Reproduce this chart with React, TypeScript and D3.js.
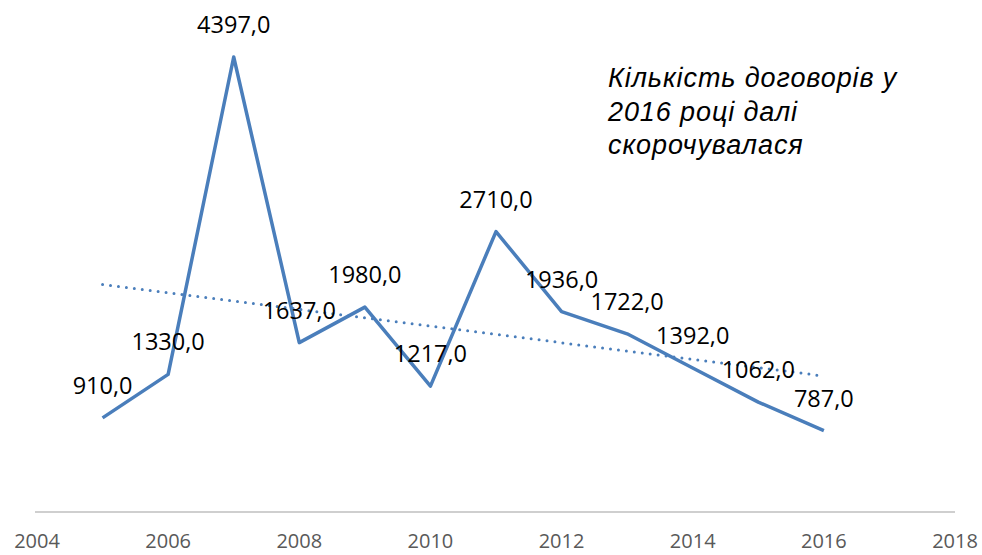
import React from "react";
import * as d3 from "d3";

const years = [2005, 2006, 2007, 2008, 2009, 2010, 2011, 2012, 2013, 2014, 2015, 2016];
const values = [910, 1330, 4397, 1637, 1980, 1217, 2710, 1936, 1722, 1392, 1062, 787];
const xTicks = [2004, 2006, 2008, 2010, 2012, 2014, 2016, 2018];
const noteLines = ["Кількість договорів у", "2016 році далі", "скорочувалася"];

export default function App() {
  const W = 982, H = 555;
  const x = d3.scaleLinear().domain([2004, 2018]).range([37, 955]);
  const y = d3.scaleLinear().domain([0, 4397]).range([512, 57]);

  const n = years.length;
  const mx = d3.mean(years)!;
  const my = d3.mean(values)!;
  let sxy = 0, sxx = 0;
  years.forEach((yr, i) => { sxy += (yr - mx) * (values[i] - my); sxx += (yr - mx) ** 2; });
  const slope = sxy / sxx;
  const trend = (yr: number) => my + slope * (yr - mx);

  const line = d3.line<number>().x((_, i) => x(years[i])).y(v => y(v));
  const fmt = (v: number) => v.toFixed(1).replace(".", ",");

  return (
    <svg width={W} height={H} style={{ position: "absolute", left: 0, top: 0, background: "#fff" }}>
      <line x1={35} x2={955} y1={y(0)} y2={y(0)} stroke="#bfbfbf" strokeWidth={1.5} />
      {xTicks.map(t => (
        <text key={t} x={x(t)} y={548} textAnchor="middle" fontFamily="Open Sans, Noto Sans, sans-serif" fontSize={20} fill="#595959">{t}</text>
      ))}
      <line x1={x(years[0])} y1={y(trend(years[0]))} x2={x(years[n - 1])} y2={y(trend(years[n - 1]))}
        stroke="#4a7ebb" strokeWidth={3} strokeDasharray="0 8" strokeLinecap="round" />
      <path d={line(values)!} fill="none" stroke="#4a7ebb" strokeWidth={3.5} strokeLinejoin="round" />
      {values.map((v, i) => (
        <text key={i} x={x(years[i])} y={y(v) - 24} textAnchor="middle" fontFamily="Open Sans, Noto Sans, sans-serif" fontSize={23.5} fill="#000">{fmt(v)}</text>
      ))}
      {noteLines.map((s, i) => (
        <text key={i} x={608} y={87 + i * 33.5} fontFamily="Liberation Sans, Arial, sans-serif" fontStyle="italic" fontSize={27} letterSpacing={0.9} fill="#000">{s}</text>
      ))}
    </svg>
  );
}
